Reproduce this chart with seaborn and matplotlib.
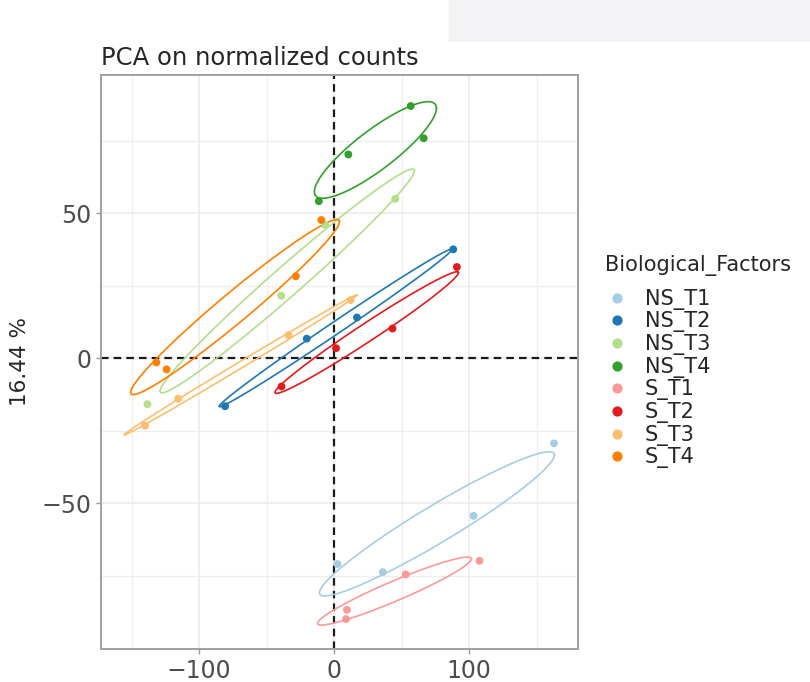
import numpy as np
import pandas as pd
import seaborn as sns
import matplotlib.pyplot as plt
from matplotlib.patches import Rectangle

# PCA SCORES (4 SAMPLES PER GROUP)
groups = ["NS_T1", "NS_T2", "NS_T3", "NS_T4", "S_T1", "S_T2", "S_T3", "S_T4"]
sample_group = [g for g in groups for _ in range(4)]
pc1 = [162.9, 103.3, 2.5, 36.2,
       88.3, 17.0, -20.2, -80.7,
       45.3, -6.6, -39.1, -138.2,
       56.8, 66.4, 10.6, -11.3,
       107.7, 53.1, 9.6, 8.9,
       91.0, 43.3, 1.5, -38.9,
       12.3, -33.7, -115.4, -140.0,
       -9.4, -28.3, -131.6, -124.0]
pc2 = [-29.4, -54.4, -71.0, -73.8,
       37.5, 14.0, 6.7, -16.6,
       54.9, 45.9, 21.5, -15.9,
       86.9, 75.8, 70.2, 54.1,
       -69.9, -74.6, -86.8, -90.0,
       31.4, 10.2, 3.4, -9.8,
       20.0, 7.9, -14.0, -23.3,
       47.6, 28.2, -1.5, -3.9]
x_ticks = [-100, 0, 100]
y_ticks = [-50, 0, 50]
y_label = "16.44 %"

ELLIPSE_RADIUS = 1.22  # in sample-sd units


def ellipse_path(x, radius=ELLIPSE_RADIUS, segments=60):
    center = x.mean(axis=0)
    shape = np.cov(x, rowvar=False)
    ang = np.linspace(0, 2 * np.pi, segments + 1)
    circle = np.column_stack([np.cos(ang), np.sin(ang)])
    upper = np.linalg.cholesky(shape).T
    return center + radius * circle @ upper


df = pd.DataFrame({"PC1": pc1, "PC2": pc2, "Biological_Factors": sample_group})
palette = dict(zip(groups, sns.color_palette("Paired", 8)))

sns.set_style("white")
plt.rcParams["font.family"] = ["DejaVu Sans"]

fig = plt.figure(figsize=(8.1, 6.82), dpi=100)
fig.patches.append(Rectangle((449 / 810, 1 - 41 / 682), 361 / 810, 41 / 682,
                             transform=fig.transFigure, color="#f3f3f5", zorder=0))
ax = fig.add_axes([101 / 810, 1 - 649 / 682, 477 / 810, 574 / 682])

# ELLIPSES PER GROUP
for g in groups:
    sub = df[df["Biological_Factors"] == g][["PC1", "PC2"]].to_numpy()
    e = ellipse_path(sub)
    ax.plot(e[:, 0], e[:, 1], color=palette[g], lw=1.2, zorder=2)

ax.axhline(0, color="#1a1a1a", lw=1.6, ls=(0, (3.4, 2.3)), zorder=1.5)
ax.axvline(0, color="#1a1a1a", lw=1.6, ls=(0, (3.4, 2.3)), zorder=1.5)

sns.scatterplot(data=df, x="PC1", y="PC2", hue="Biological_Factors", hue_order=groups,
                palette=palette, s=32, linewidth=0, ax=ax, zorder=3)

ax.set_xlim(-172.6, 180.7)
ax.set_ylim(-100.3, 97.6)
ax.set_xticks(x_ticks)
ax.set_yticks(y_ticks)
ax.set_xticks([-150, -50, 50, 150], minor=True)
ax.set_yticks([-75, -25, 25, 75], minor=True)
ax.grid(which="major", color="#ebebeb", lw=1.1)
ax.grid(which="minor", color="#efefef", lw=0.9)
ax.set_axisbelow(True)
ax.tick_params(which="major", direction="out", length=3.5, width=1, color="#999999",
               labelsize=17, labelcolor="#4d4d4d", left=True, bottom=True)
ax.tick_params(which="minor", length=0)
for sp in ax.spines.values():
    sp.set_color("#a0a0a0")
    sp.set_linewidth(1.4)
ax.set_xlabel("")
ax.set_ylabel("")
ax.set_title("PCA on normalized counts", loc="left", fontsize=17.5, pad=7)
fig.text(20 / 810, 1 - 362 / 682, y_label, rotation=90, ha="center", va="center", fontsize=15.5)

# LEGEND: ENTRIES FROM SEABORN, TITLE PLACED SEPARATELY
sns.move_legend(ax, "center left", bbox_to_anchor=(1.02, 0.471), frameon=False,
                title=None, fontsize=15, markerscale=1.3, labelspacing=0.08,
                handletextpad=0.36, borderaxespad=0)
fig.text(605 / 810, 1 - 266 / 682, "Biological_Factors", ha="left", va="center", fontsize=15)

plt.savefig("out.png", dpi=100)
